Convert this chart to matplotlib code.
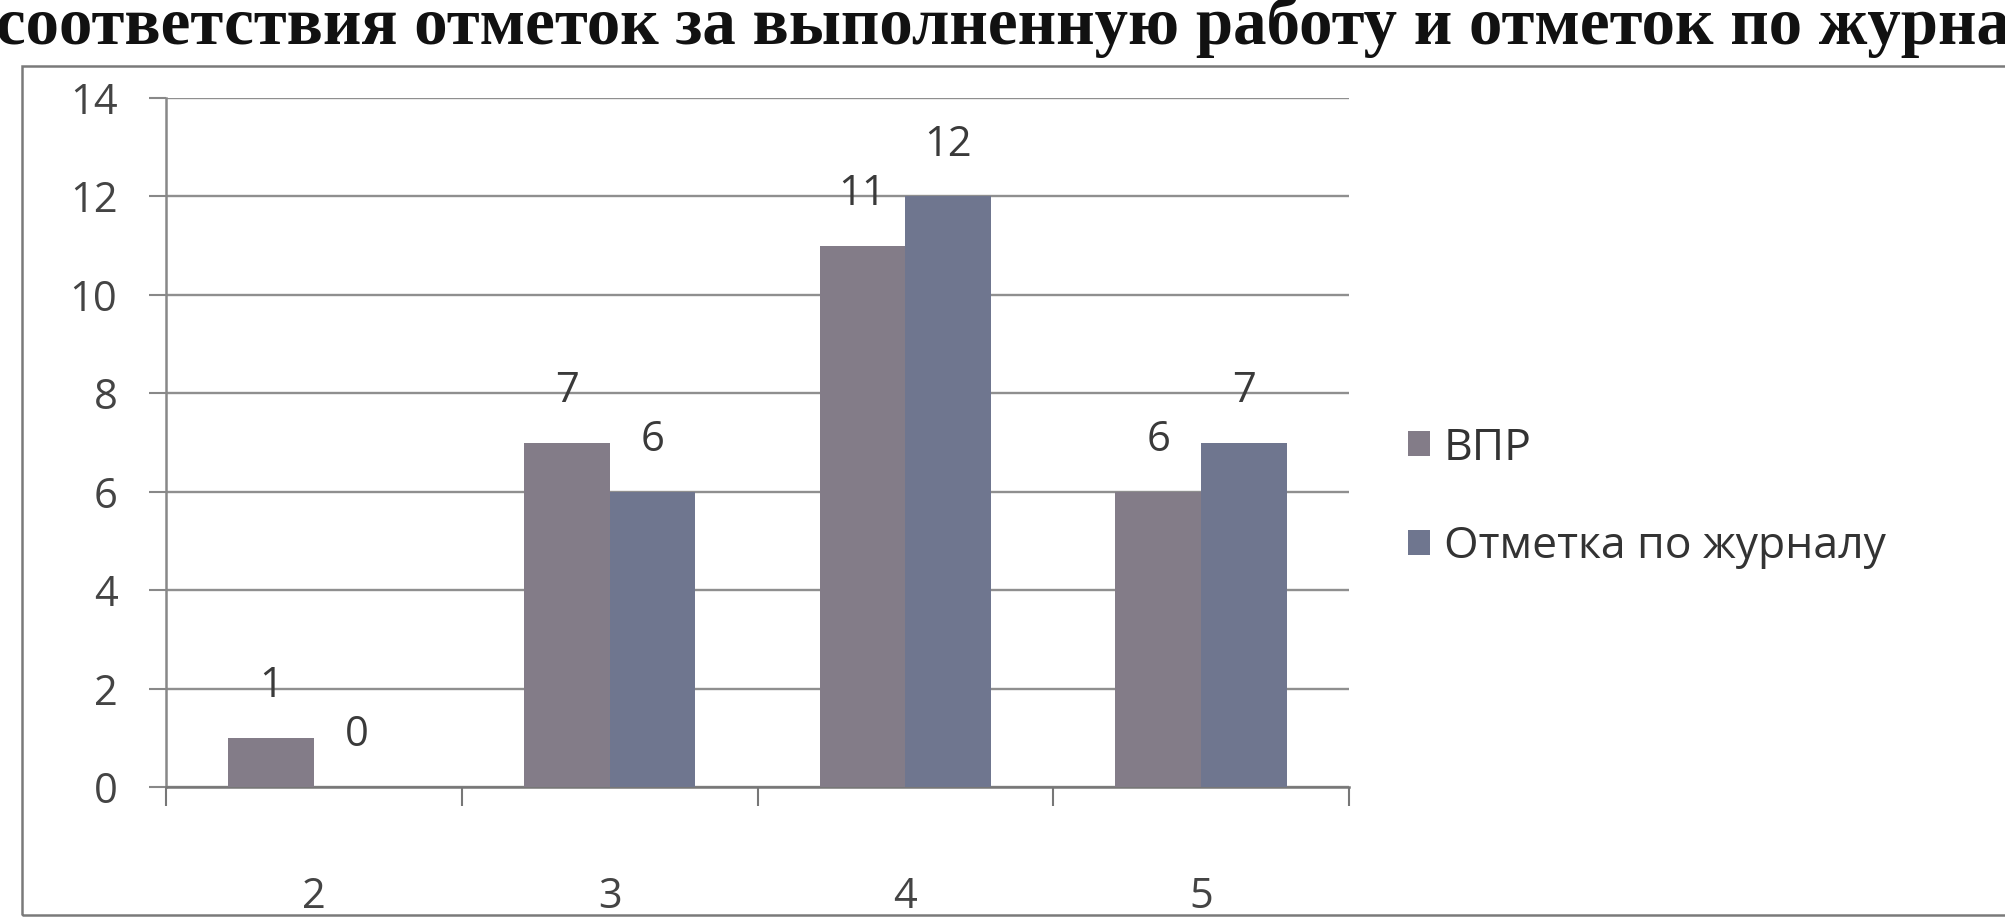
import matplotlib
matplotlib.use("Agg")
import matplotlib.pyplot as plt
from matplotlib.patches import Rectangle
import numpy as np

# ---- data ----
categories = ["2", "3", "4", "5"]
vpr = [1, 7, 11, 6]
journal = [0, 6, 12, 7]
series_names = ["ВПР", "Отметка по журналу"]
title_text = "соответствия отметок за выполненную работу и отметок по журна"
yticks = [0, 2, 4, 6, 8, 10, 12, 14]

W, H = 2005, 923
fig = plt.figure(figsize=(W / 100, H / 100), dpi=100)
fig.patch.set_facecolor("white")

FONT = ["Open Sans", "DejaVu Sans"]
plt.rcParams["font.family"] = FONT

# axes placement in pixels
left, right, top, bottom = 166, 1349, 98, 787
ax = fig.add_axes([left / W, 1 - bottom / H, (right - left) / W, (bottom - top) / H])

x = np.arange(len(categories))
bw = 1 / 3.45
c_vpr = "#837c88"
c_jr = "#6f768f"
b1 = ax.bar(x - bw / 2, vpr, bw, color=c_vpr, label=series_names[0], zorder=3)
b2 = ax.bar(x + bw / 2, journal, bw, color=c_jr, label=series_names[1], zorder=3)

for bars, vals in ((b1, vpr), (b2, journal)):
    for rect, v in zip(bars, vals):
        ax.annotate(str(v), (rect.get_x() + rect.get_width() / 2, v),
                    xytext=(0, 22), textcoords="offset points",
                    ha="center", va="bottom", fontsize=30, color="#3a3a3a")

ax.set_xlim(-0.5, len(categories) - 0.5)
ax.set_ylim(0, 14)
ax.set_yticks(yticks)
ax.set_yticklabels([str(t) for t in yticks])
ax.yaxis.grid(True, color="#8f8f8f", linewidth=1.7, zorder=0)
ax.set_axisbelow(True)

ax.set_xticks(x)
ax.set_xticklabels(categories)
ax.set_xticks(np.arange(-0.5, len(categories), 1), minor=True)
ax.tick_params(axis="x", which="major", length=0, pad=64, labelsize=30, labelcolor="#444444")
ax.tick_params(axis="x", which="minor", length=14, width=1.5, color="#777777", direction="out")
ax.tick_params(axis="y", length=12, width=1.5, color="#888888", pad=23, labelsize=30, labelcolor="#444444")

for s in ("top", "right"):
    ax.spines[s].set_visible(False)
ax.spines["left"].set_color("#888888")
ax.spines["left"].set_linewidth(1.8)
ax.spines["bottom"].set_color("#777777")
ax.spines["bottom"].set_linewidth(1.8)

leg = fig.legend(handles=[b1, b2], labels=series_names, loc="upper left",
                 bbox_to_anchor=(1368 / W, 1 - 386 / H), frameon=False,
                 fontsize=32, labelspacing=1.22, handlelength=0.5, handleheight=0.5,
                 handletextpad=0.3, labelcolor="#333333")

# chart area frame
fig.add_artist(Rectangle((22 / W, 1 - 915 / H), (W + 20) / W, (915 - 66) / H,
                         transform=fig.transFigure, fill=False,
                         edgecolor="#7a7a7a", linewidth=1.8))

# title (cut off at the sides, as in the scan)
t = fig.text(-4 / W, 1 - 44 / H, title_text, ha="left", va="baseline",
             fontsize=46, fontweight="bold", family=["Liberation Serif", "DejaVu Serif"],
             color="#111111")
fig.canvas.draw()
bb = t.get_window_extent()
t.set_fontsize(46 * (W + 8) / bb.width)

fig.savefig("out.png", dpi=100, facecolor="white")
